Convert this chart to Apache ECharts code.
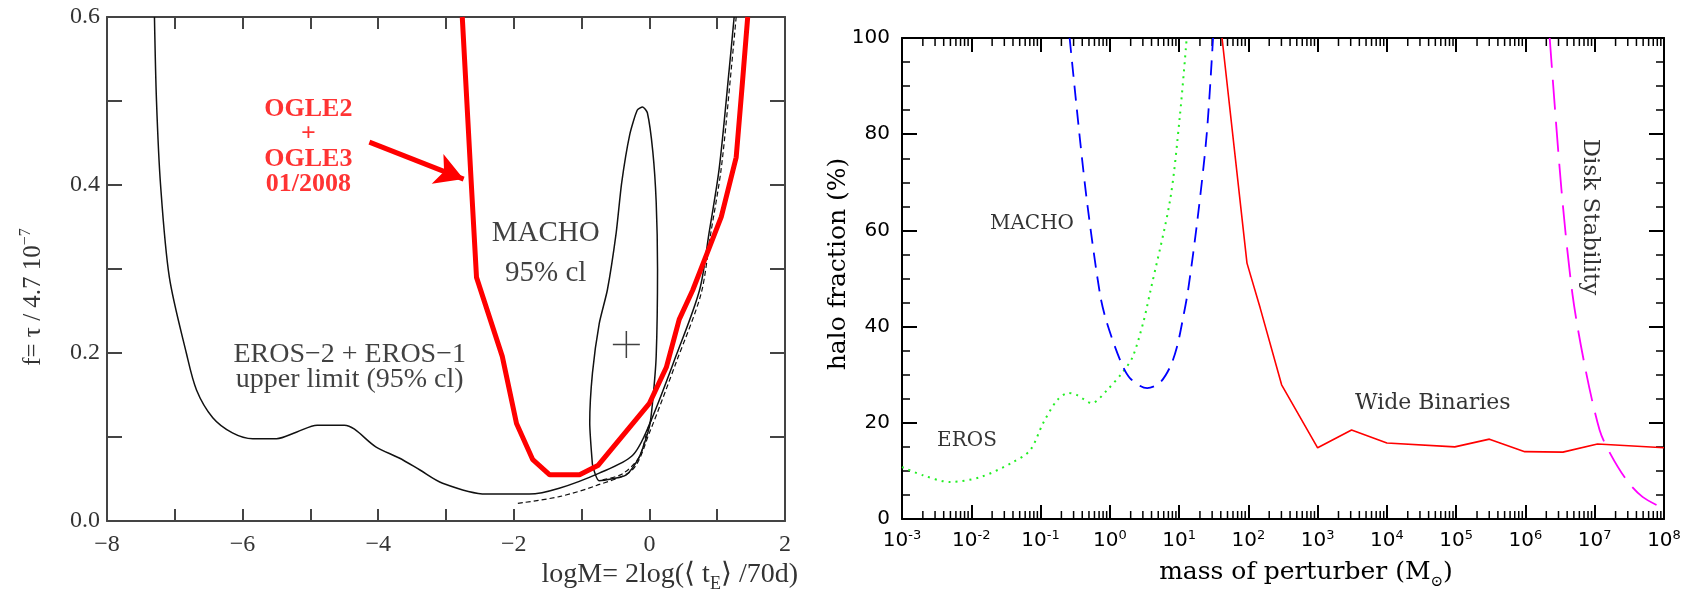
<!DOCTYPE html>
<html><head><meta charset="utf-8">
<script src="https://cdn.jsdelivr.net/npm/echarts@6/dist/echarts.min.js"></script>
<style>html,body{margin:0;padding:0;background:#fff}#c{width:1687px;height:596px}</style>
</head><body><div id="c"></div>
<script>
// ===== Left panel data: x = logM, y = f =====
const erosLimX = [-7.30,-7.27,-7.21,-7.08,-6.83,-6.68,-6.44,-6.15,-5.85,-5.50,-5.20,-4.90,-4.50,-4.03,-3.69,-3.39,-3.05,-2.41,-1.77,-1.33,-0.74,-0.25,0.00,0.39,0.74,0.88,1.03,1.18,1.25];
const erosLimY = [0.60,0.50,0.40,0.29,0.20,0.156,0.123,0.105,0.098,0.098,0.106,0.114,0.114,0.088,0.075,0.061,0.045,0.032,0.032,0.039,0.057,0.078,0.115,0.196,0.275,0.343,0.42,0.54,0.60];
const dashAX = [-1.94,-1.33,-0.79,-0.25,0.00,0.40,0.76,0.90,1.06,1.21,1.28];
const dashAY = [0.021,0.029,0.042,0.061,0.105,0.19,0.27,0.34,0.42,0.54,0.60];
const dashBX = [-0.69,-0.40,-0.15,-0.03,0.05];
const dashBY = [0.049,0.056,0.076,0.108,0.125];
const machoX = [-0.84,-0.88,-0.84,-0.74,-0.62,-0.49,-0.41,-0.29,-0.18,-0.10,-0.03,0.05,0.10,0.12,0.10,0.05,0.00,-0.15,-0.34,-0.74,-0.84];
const machoY = [0.067,0.117,0.176,0.235,0.275,0.343,0.402,0.46,0.489,0.493,0.486,0.44,0.38,0.30,0.196,0.144,0.112,0.076,0.055,0.048,0.067];
const ogleX = [-2.76,-2.63,-2.55,-2.17,-1.96,-1.72,-1.47,-1.03,-0.76,0.00,0.25,0.44,0.64,1.06,1.28,1.37,1.45];
const ogleY = [0.60,0.406,0.29,0.196,0.116,0.073,0.055,0.055,0.066,0.14,0.183,0.24,0.275,0.362,0.433,0.52,0.60];
const arrowFrom = [-4.13, 0.451];
const arrowTo = [-2.74, 0.407];
const crossPoint = [-0.34, 0.21];

// ===== Right panel data: x = log10(mass / Msun), y = halo fraction (%) =====
const erosLogM = [-3.00,-2.70,-2.31,-1.87,-1.40,-1.15,-0.96,-0.76,-0.60,-0.48,-0.26,-0.04,0.19,0.33,0.48,0.58,0.87,1.01,1.11];
const erosFrac = [10.8,9.1,7.7,8.7,11.8,14.3,20.0,24.7,26.2,25.8,24.1,26.8,30.6,33.7,40.7,47.0,66.3,83.6,100];
const machoLogM = [-0.58,-0.43,-0.32,-0.14,-0.04,0.15,0.29,0.54,0.72,0.87,0.97,1.06,1.13,1.27,1.40,1.49];
const machoFrac = [100,78.8,64.9,46.6,40.7,33.0,29.3,27.2,28.3,31.6,35.8,42.0,47.6,62.8,80.2,100];
const wideLogM = [1.62,1.98,2.17,2.48,3.00,3.49,4.00,4.98,5.48,5.99,6.54,7.04,8.00];
const wideFrac = [100,53.2,43.9,27.9,14.8,18.5,15.8,15.0,16.6,14.0,13.9,15.6,14.8];
const diskLogM = [6.35,6.52,6.68,6.86,7.07,7.22,7.46,7.69,7.98];
const diskFrac = [100,68.4,46.6,31.6,18.5,13.7,8.1,4.6,2.3];

// ===== Tick setup =====
const leftXTicks = {min:-8, max:2, step:1};
const leftYTicks = {min:0, max:0.6, step:0.1};
const rightXTicks = {min:-3, max:8, step:1};
const rightYTicks = {min:0, max:100, step:20};
const minorMultipliers = [2,3,4,5,6,7,8,9];

const zip = (xs, ys) => xs.map((x, i) => [x, ys[i]]);
const minorTickPos = [];
for (let e = rightXTicks.min; e < rightXTicks.max; e++) minorMultipliers.forEach(k => minorTickPos.push([e + Math.log10(k), 0]));

const LF = 'Liberation Serif';
const RF = 'DejaVu Sans';
const RA = 'DejaVu Serif';
const leftLine = {color:'#444', width:2};
const rightLine = {color:'#000', width:2};

function leftX(pos, show) {
  return {gridIndex:0, type:'value', position:pos, min:leftXTicks.min, max:leftXTicks.max, interval:leftXTicks.step,
    axisLine:{show:true, onZero:false, lineStyle:leftLine},
    axisTick:{show:true, inside:true, length:12, lineStyle:leftLine},
    axisLabel:{show:show, showMinLabel:true, showMaxLabel:true, fontFamily:LF, fontSize:24, color:'#333', margin:12,
      formatter: v => (Math.round(v) % 2 === 0 ? (v < 0 ? '\u2212' + (-v) : String(v)) : '')},
    splitLine:{show:false}};
}
function leftY(pos, show) {
  return {gridIndex:0, type:'value', position:pos, min:leftYTicks.min, max:leftYTicks.max, interval:leftYTicks.step,
    axisLine:{show:true, onZero:false, lineStyle:leftLine},
    axisTick:{show:true, inside:true, length:15, lineStyle:leftLine},
    axisLabel:{show:show, showMinLabel:true, showMaxLabel:true, fontFamily:LF, fontSize:24, color:'#333', margin:7,
      formatter: v => (Math.round(v * 10) % 2 === 0 ? v.toFixed(1) : '')},
    splitLine:{show:false}};
}
function rightX(pos, show) {
  return {gridIndex:1, type:'value', position:pos, min:rightXTicks.min, max:rightXTicks.max, interval:rightXTicks.step,
    axisLine:{show:true, onZero:false, lineStyle:rightLine},
    axisTick:{show:true, inside:true, length:14, lineStyle:rightLine},
    axisLabel:{show:show, showMinLabel:true, showMaxLabel:true, margin:10,
      formatter: v => '{b|10}{s|' + (v < 0 ? '-' + (-v) : v) + '}',
      rich:{b:{fontFamily:RF, fontSize:20, color:'#000', lineHeight:22, verticalAlign:'bottom'},
            s:{fontFamily:RF, fontSize:13, color:'#000', lineHeight:22, verticalAlign:'top'}}},
    splitLine:{show:false}};
}
function rightY(pos, show) {
  return {gridIndex:1, type:'value', position:pos, min:rightYTicks.min, max:rightYTicks.max, interval:rightYTicks.step,
    axisLine:{show:true, onZero:false, lineStyle:rightLine},
    axisTick:{show:true, inside:true, length:15, lineStyle:rightLine},
    minorTick:{show:true, splitNumber:4, length:8, lineStyle:{color:'#000', width:1.5}},
    axisLabel:{show:show, showMinLabel:true, showMaxLabel:true, fontFamily:RF, fontSize:20, color:'#000', margin:12},
    splitLine:{show:false}, minorSplitLine:{show:false}};
}

function label(text, style) {
  return Object.assign({show:true, position:'inside', formatter:text, align:'center', verticalAlign:'middle'}, style);
}
function annot(xi, yi, items) {
  return {type:'scatter', xAxisIndex:xi, yAxisIndex:yi, symbolSize:1, silent:true, z:5,
    itemStyle:{color:'transparent'}, data:items};
}

const option = {
  animation:false,
  backgroundColor:'#fff',
  grid:[
    {left:107, top:17, width:678, height:504},
    {left:902, top:38, width:762, height:481}
  ],
  xAxis:[leftX('bottom', true), leftX('top', false), rightX('bottom', true), rightX('top', false)],
  yAxis:[leftY('left', true), leftY('right', false), rightY('left', true), rightY('right', false)],
  graphic:[
    {type:'text', x:32, y:297, rotation:Math.PI/2, style:{
      text:'{a|f= τ / 4.7 10}{s|\u22127}', align:'center', verticalAlign:'middle',
      rich:{a:{fontFamily:LF, fontSize:25, fill:'#333', lineHeight:28, verticalAlign:'bottom'},
            s:{fontFamily:LF, fontSize:16, fill:'#333', lineHeight:28, verticalAlign:'top'}}}},
    {type:'text', x:798, y:577, style:{
      text:'{a|logM= 2log(\u27E8 t}{e|E}{a|\u27E9 /70d)}', align:'right', verticalAlign:'middle',
      rich:{a:{fontFamily:LF, fontSize:28, fill:'#333', lineHeight:32, verticalAlign:'top'},
            e:{fontFamily:LF, fontSize:18, fill:'#333', lineHeight:32, verticalAlign:'bottom'}}}},
    {type:'text', x:838, y:264, rotation:Math.PI/2, style:{
      text:'halo fraction (%)', align:'center', verticalAlign:'middle', fontFamily:RA, fontSize:25, fill:'#000'}},
    {type:'text', x:1306, y:575, style:{
      text:'{a|mass of perturber (M}{s|\u2299}{a|)}', align:'center', verticalAlign:'middle',
      rich:{a:{fontFamily:RA, fontSize:25, fill:'#000', lineHeight:30, verticalAlign:'top'},
            s:{fontFamily:RA, fontSize:15, fill:'#000', lineHeight:30, verticalAlign:'bottom'}}}}
  ],
  series:[
    // Left panel curves
    {type:'line', xAxisIndex:0, yAxisIndex:0, data:zip(erosLimX, erosLimY), showSymbol:false, smooth:0.3,
      lineStyle:{color:'#111', width:1.5}},
    {type:'line', xAxisIndex:0, yAxisIndex:0, data:zip(dashAX, dashAY), showSymbol:false, smooth:0.3,
      lineStyle:{color:'#111', width:1.2, type:[5,3]}},
    {type:'line', xAxisIndex:0, yAxisIndex:0, data:zip(dashBX, dashBY), showSymbol:false, smooth:0.3,
      lineStyle:{color:'#111', width:1.2, type:[5,3]}},
    {type:'line', xAxisIndex:0, yAxisIndex:0, data:zip(machoX, machoY), showSymbol:false, smooth:0.2,
      lineStyle:{color:'#111', width:1.5}},
    {type:'line', xAxisIndex:0, yAxisIndex:0, data:zip(ogleX, ogleY), showSymbol:false, smooth:false, z:4,
      lineStyle:{color:'#ff0000', width:5},
      markLine:{silent:true, symbol:['none','arrow'], symbolSize:[24,28], label:{show:false},
        lineStyle:{color:'#ff0000', width:5, type:'solid'},
        data:[[{coord:arrowFrom}, {coord:arrowTo}]]}},
    {type:'scatter', xAxisIndex:0, yAxisIndex:0, silent:true, data:[crossPoint], symbolSize:27,
      symbol:'path://M10,0L10,20M0,10L20,10',
      itemStyle:{color:'transparent', borderColor:'#111', borderWidth:1.5}},
    annot(0, 0, [
      {value:[-5.03, 0.445], label:label('OGLE2\n+\nOGLE3\n01/2008', {fontFamily:LF, fontWeight:'bold', fontSize:26, lineHeight:25, color:'#ff0000'})},
      {value:[-1.53, 0.319], label:label('MACHO\n95% cl', {fontFamily:LF, fontSize:29, lineHeight:40, color:'#111'})},
      {value:[-4.42, 0.183], label:label('EROS\u22122 + EROS\u22121\nupper limit (95% cl)', {fontFamily:LF, fontSize:28, lineHeight:25, color:'#111'})}
    ]),
    // Right panel curves
    {type:'line', xAxisIndex:2, yAxisIndex:2, data:zip(erosLogM, erosFrac), showSymbol:false, smooth:0.3,
      lineStyle:{color:'#22ee22', width:2, type:[2,5]}},
    {type:'line', xAxisIndex:2, yAxisIndex:2, data:zip(machoLogM, machoFrac), showSymbol:false, smooth:0.3,
      lineStyle:{color:'#0000ff', width:1.8, type:[15,9]}},
    {type:'line', xAxisIndex:2, yAxisIndex:2, data:zip(wideLogM, wideFrac), showSymbol:false, smooth:false,
      lineStyle:{color:'#ff0000', width:1.6}},
    {type:'line', xAxisIndex:2, yAxisIndex:2, data:zip(diskLogM, diskFrac), showSymbol:false, smooth:0.3,
      lineStyle:{color:'#ff00ff', width:1.8, type:[30,12]}},
    annot(2, 2, [
      {value:[-1.124, 61.3], label:label('MACHO', {fontFamily:RA, fontSize:20, color:'#000'})},
      {value:[-2.062, 16.2], label:label('EROS', {fontFamily:RA, fontSize:20, color:'#000'})},
      {value:[4.662, 24.1], label:label('Wide Binaries', {fontFamily:RA, fontSize:22, color:'#000'})},
      {value:[6.928, 62.8], label:label('Disk Stability', {fontFamily:RA, fontSize:23, color:'#000', rotate:-90})}
    ]),
    // log minor ticks (2..9 x 10^n) on bottom and top of the right panel
    {type:'custom', xAxisIndex:2, yAxisIndex:2, silent:true, data:minorTickPos, clip:false,
      renderItem:(params, api) => {
        const x = api.value(0);
        const pb = api.coord([x, rightYTicks.min]);
        const pt = api.coord([x, rightYTicks.max]);
        return {type:'group', children:[
          {type:'line', shape:{x1:pb[0], y1:pb[1], x2:pb[0], y2:pb[1]-8}, style:{stroke:'#000', lineWidth:1.5}},
          {type:'line', shape:{x1:pt[0], y1:pt[1], x2:pt[0], y2:pt[1]+8}, style:{stroke:'#000', lineWidth:1.5}}
        ]};
      }}
  ]
};
const chart = echarts.init(document.getElementById('c'), null, {renderer:'canvas'});
chart.setOption(option);
</script></body></html>
